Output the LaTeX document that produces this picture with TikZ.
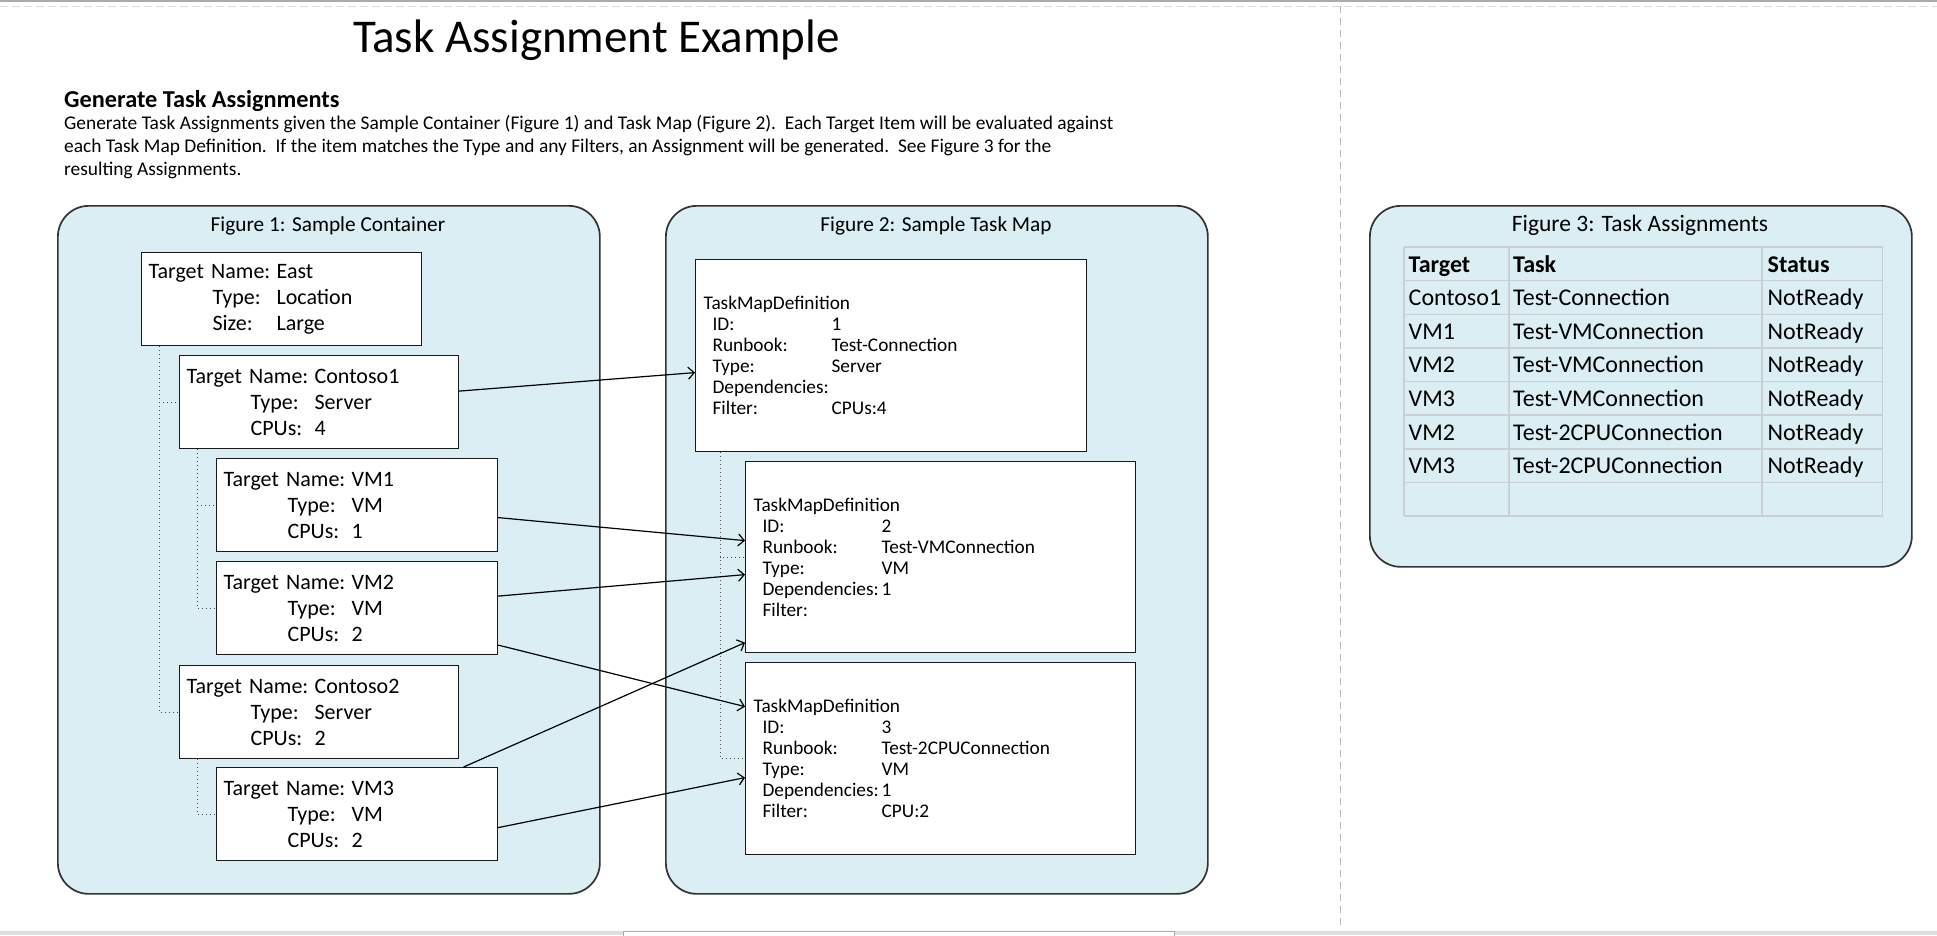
\documentclass[tikz,border=0pt]{standalone}
\usepackage{fontspec}
\setmainfont{Carlito}
\usetikzlibrary{arrows.meta,calc}
\definecolor{panel}{HTML}{DAEEF3}
\definecolor{tline}{HTML}{C9CFD2}
\newcommand\tgline[2]{\hspace*{64pt}\makebox[64pt][l]{#1}#2}
\newcommand\tmline[2]{\hspace*{9pt}\makebox[119pt][l]{#1}#2}
\begin{document}
\begin{tikzpicture}[x=1pt,y=-1pt,
  panelbox/.style={draw=black!80, line width=1.7pt, fill=panel, rounded corners=31pt, inner sep=0pt, anchor=north west},
  paneltitle/.style={anchor=base, inner sep=0pt, font=\fontsize{21.3pt}{26pt}\selectfont},
  tgt/.style={draw=black!90, line width=1.2pt, fill=white, anchor=north west, inner xsep=7pt, inner ysep=0pt, minimum height=93pt, align=left, font=\fontsize{22pt}{26pt}\selectfont},
  tmd/.style={draw=black!90, line width=1.2pt, fill=white, anchor=north west, inner xsep=8pt, inner ysep=0pt, minimum height=192pt, align=left, font=\fontsize{19.3pt}{21pt}\selectfont},
  treeline/.style={draw=black!70, line width=1pt, dash pattern=on 1pt off 3pt},
  conn/.style={draw=black, line width=1.2pt, -{Straight Barb[length=6pt,width=12pt]}},
  tableline/.style={draw=tline, line width=1.5pt},
  cell/.style={anchor=base west, inner sep=0pt, font=\fontsize{24pt}{28pt}\selectfont},
  para/.style={anchor=base west, inner sep=0pt, font=\fontsize{19.4pt}{22pt}\selectfont}
]
\useasboundingbox (0,0) rectangle (1937,935);
% page decorations
\draw[draw=black!33, line width=1.5pt] (0,0.75) -- (1937,0.75);
\draw[draw=black!14, line width=1pt, dash pattern=on 8pt off 4pt] (0,6) -- (1937,6);
\draw[draw=black!28, line width=1.5pt, dash pattern=on 7pt off 5pt] (1340.7,6) -- (1340.7,930);
\fill[black!13] (0,931) rectangle (1937,935);
\draw[fill=white, draw=black!33, line width=1pt] (623,931.5) rectangle (1174,936);

% title and text
\node[anchor=base, inner sep=0pt, font=\fontsize{47pt}{56pt}\selectfont] (title) at (596.5,52) {Task Assignment Example};
\node[anchor=base west, inner sep=0pt, font=\fontsize{24.3pt}{28pt}\selectfont\bfseries] (head) at (64,107.5) {Generate Task Assignments};
\node[para] (p1) at (64,129.5) {Generate Task Assignments given the Sample Container (Figure 1) and Task Map (Figure 2).\ \ Each Target Item will be evaluated against};
\node[para] (p2) at (64,152.2) {each Task Map Definition.\ \ If the item matches the Type and any Filters, an Assignment will be generated.\ \ See Figure 3 for the};
\node[para] (p3) at (64,175) {resulting Assignments.};

% panels
\node[panelbox, minimum width=542pt, minimum height=688pt] (fig1) at (57,205) {};
\node[panelbox, minimum width=542pt, minimum height=688pt] (fig2) at (665,205) {};
\node[panelbox, minimum width=542pt, minimum height=361pt] (fig3) at (1369,205) {};
\node[paneltitle] (fig1t) at (328,231) {Figure 1: Sample Container};
\node[paneltitle] (fig2t) at (936,231) {Figure 2: Sample Task Map};
\node[paneltitle, font=\fontsize{23.5pt}{26pt}\selectfont] (fig3t) at (1640,231) {Figure 3: Task Assignments};

% figure 1 targets
\node[tgt, text width=266pt] (east) at (141,252) {\makebox[128pt][l]{Target Name:}East\\ \tgline{Type:}{Location}\\ \tgline{Size:}{Large}};
\node[tgt, text width=265pt] (c1) at (179,355) {\makebox[128pt][l]{Target Name:}Contoso1\\ \tgline{Type:}{Server}\\ \tgline{CPUs:}{4}};
\node[tgt, text width=267pt] (vm1) at (216,458) {\makebox[128pt][l]{Target Name:}VM1\\ \tgline{Type:}{VM}\\ \tgline{CPUs:}{1}};
\node[tgt, text width=267pt] (vm2) at (216,561) {\makebox[128pt][l]{Target Name:}VM2\\ \tgline{Type:}{VM}\\ \tgline{CPUs:}{2}};
\node[tgt, text width=265pt] (c2) at (179,665) {\makebox[128pt][l]{Target Name:}Contoso2\\ \tgline{Type:}{Server}\\ \tgline{CPUs:}{2}};
\node[tgt, text width=267pt] (vm3) at (216,767) {\makebox[128pt][l]{Target Name:}VM3\\ \tgline{Type:}{VM}\\ \tgline{CPUs:}{2}};

% tree lines figure 1
\draw[treeline] ([xshift=18pt]east.south west) |- (c2.west);
\draw[treeline] ([xshift=18pt]east.south west) |- (c1.west);
\draw[treeline] ([xshift=18pt]c1.south west) |- (vm2.west);
\draw[treeline] ([xshift=18pt]c1.south west) |- (vm1.west);
\draw[treeline] ([xshift=18pt]c2.south west) |- (vm3.west);

% figure 2 task map definitions
\node[tmd, text width=375pt] (t1) at (695,259) {TaskMapDefinition\\ \tmline{ID:}{1}\\ \tmline{Runbook:}{Test-Connection}\\ \tmline{Type:}{Server}\\ \tmline{Dependencies:}{}\\ \tmline{Filter:}{CPUs:4}};
\node[tmd, text width=374pt, minimum height=191pt] (t2) at (745,461) {TaskMapDefinition\\ \tmline{ID:}{2}\\ \tmline{Runbook:}{Test-VMConnection}\\ \tmline{Type:}{VM}\\ \tmline{Dependencies:}{1}\\ \tmline{Filter:}{}};
\node[tmd, text width=374pt] (t3) at (745,662) {TaskMapDefinition\\ \tmline{ID:}{3}\\ \tmline{Runbook:}{Test-2CPUConnection}\\ \tmline{Type:}{VM}\\ \tmline{Dependencies:}{1}\\ \tmline{Filter:}{CPU:2}};

\draw[treeline] ([xshift=25pt]t1.south west) |- (t3.west);
\draw[treeline] ([xshift=25pt]t1.south west) |- (t2.west);

% connectors
\draw[conn] ([yshift=11pt]c1.east) -- ([yshift=-17pt]t1.west);
\draw[conn] ([yshift=-12.5pt]vm1.east) -- ([yshift=16.5pt]t2.west);
\draw[conn] ([yshift=12pt]vm2.east) -- ([yshift=-17.5pt]t2.west);
\draw[conn] ([yshift=-37pt]vm2.east) -- ([yshift=52pt]t3.west);
\draw[conn] ([xshift=106.5pt]vm3.north) -- ([yshift=-85.5pt]t2.west);
\draw[conn] ([yshift=-13.5pt]vm3.east) -- ([yshift=-19pt]t3.west);

% figure 3 table
\foreach \i in {0,...,8} {
  \draw[tableline] (1404,{247+\i*33.625}) -- (1882.5,{247+\i*33.625});
}
\foreach \x in {1404,1509,1762,1882.5} {
  \draw[tableline] (\x,247) -- (\x,516);
}
\node[cell, font=\fontsize{24pt}{28pt}\selectfont\bfseries] (h1) at (1408.5,272) {Target};
\node[cell, font=\fontsize{24pt}{28pt}\selectfont\bfseries] (h2) at (1513,272) {Task};
\node[cell, font=\fontsize{24pt}{28pt}\selectfont\bfseries] (h3) at (1767.5,272) {Status};
\foreach \tg/\tk [count=\r] in {Contoso1/Test-Connection, VM1/Test-VMConnection, VM2/Test-VMConnection, VM3/Test-VMConnection, VM2/Test-2CPUConnection, VM3/Test-2CPUConnection} {
  \node[cell] (ra\r) at (1408.5,{272+\r*33.625}) {\tg};
  \node[cell] (rb\r) at (1513,{272+\r*33.625}) {\tk};
  \node[cell] (rc\r) at (1767.5,{272+\r*33.625}) {NotReady};
}
\end{tikzpicture}
\end{document}
